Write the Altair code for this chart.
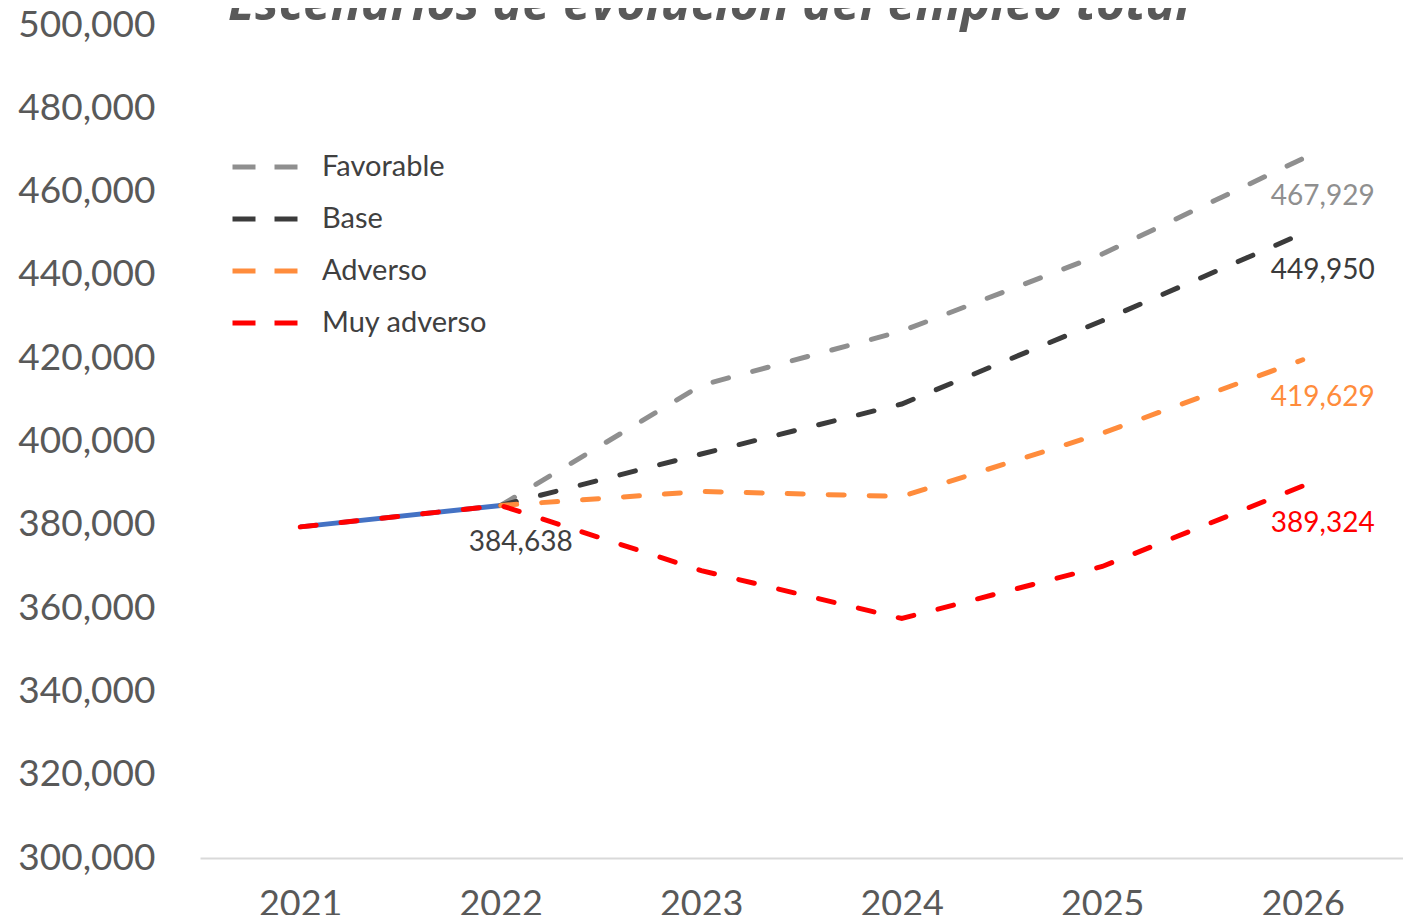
import altair as alt
import pandas as pd

# ---- data ----
years = ["2021", "2022", "2023", "2024", "2025", "2026"]
historico = [379500, 384638, None, None, None, None]
favorable = [None, 384638, 413500, 426500, 445000, 467929]
base = [None, 384638, 397000, 409000, 429000, 449950]
adverso = [None, 384638, 388000, 386800, 402000, 419629]
muy_adverso = [379500, 384638, 369000, 357500, 370000, 389324]

series_names = ["Favorable", "Base", "Adverso", "Muy adverso"]
series_values = [favorable, base, adverso, muy_adverso]
series_colors = ["#8f8f8f", "#3b3b3b", "#ff8c3c", "#ff0000"]
hist_color = "#4472c4"

label_points = [("2022", 384638, "#404040"),
                ("2026", 467929, "#8f8f8f"),
                ("2026", 449950, "#3b3b3b"),
                ("2026", 419629, "#ff8c3c"),
                ("2026", 389324, "#ff0000")]

y_ticks = list(range(300000, 500001, 20000))

# ---- tables ----
rows = []
for i, (name, vals) in enumerate(zip(series_names, series_values)):
    for y, v in zip(years, vals):
        if v is not None:
            rows.append({"year": y, "value": v, "serie": name, "ord": i})
df = pd.DataFrame(rows)
df_hist = pd.DataFrame([{"year": y, "value": v} for y, v in zip(years, historico) if v is not None])
df_lab = pd.DataFrame([{"year": y, "value": v, "color": c} for y, v, c in label_points])

FONT = "Lato"
GREY = "#595959"

x_enc = alt.X("year:O", sort=years,
              scale=alt.Scale(type="point", padding=0.5),
              axis=alt.Axis(title=None, labelFont=FONT, labelFontSize=36, labelColor=GREY,
                            labelAngle=0, ticks=False, domainColor="#d9d9d9", domainWidth=2,
                            labelPadding=29, grid=False))
y_enc = alt.Y("value:Q",
              scale=alt.Scale(domain=[300000, 500000], nice=False, zero=False),
              axis=alt.Axis(title=None, values=y_ticks, format=",.0f", labelFont=FONT,
                            labelFontSize=37, labelColor=GREY, ticks=False, domain=False,
                            grid=False, labelPadding=45))

hist = alt.Chart(df_hist).mark_line(strokeWidth=5, color=hist_color).encode(x=x_enc, y=y_enc)

lines = alt.Chart(df).mark_line(strokeWidth=5, strokeDash=[16, 25], strokeCap="round").encode(
    x=x_enc, y=y_enc,
    color=alt.Color("serie:N", sort=series_names,
                    scale=alt.Scale(domain=series_names, range=series_colors),
                    legend=alt.Legend(title=None, orient="none", legendX=30, legendY=127,
                                      symbolType="stroke", symbolSize=66 * 66,
                                      symbolStrokeWidth=5, symbolDash=[23, 19],
                                      labelFont=FONT, labelFontSize=29, labelColor="#404040",
                                      labelLimit=400,
                                      clipHeight=30, rowPadding=22, labelOffset=21,
                                      padding=0)),
    order=alt.Order("ord:Q"),
)

labels = alt.Chart(df_lab).mark_text(dx=20, dy=38, fontSize=28, font=FONT,
                                     align="center", baseline="middle").encode(
    x=x_enc, y=y_enc,
    text=alt.Text("value:Q", format=",.0f"),
    color=alt.Color("color:N", scale=None),
)

chart = alt.layer(hist, lines, labels).properties(
    width=1203, height=833,
    background="white",
    title=alt.TitleParams("Escenarios de evolución del empleo total", font="Open Sans",
                          fontSize=50, fontStyle="italic", fontWeight="bold", color=GREY,
                          anchor="start", frame="group", dx=28, dy=24, offset=0,
                          orient="top"),
    autosize=alt.AutoSizeParams(type="none"),
    padding={"left": 192, "top": 17, "right": 0, "bottom": 57},
).configure_view(strokeWidth=0, stroke="transparent")

chart.save("out.html", embed_options={"renderer": "svg", "actions": False})
